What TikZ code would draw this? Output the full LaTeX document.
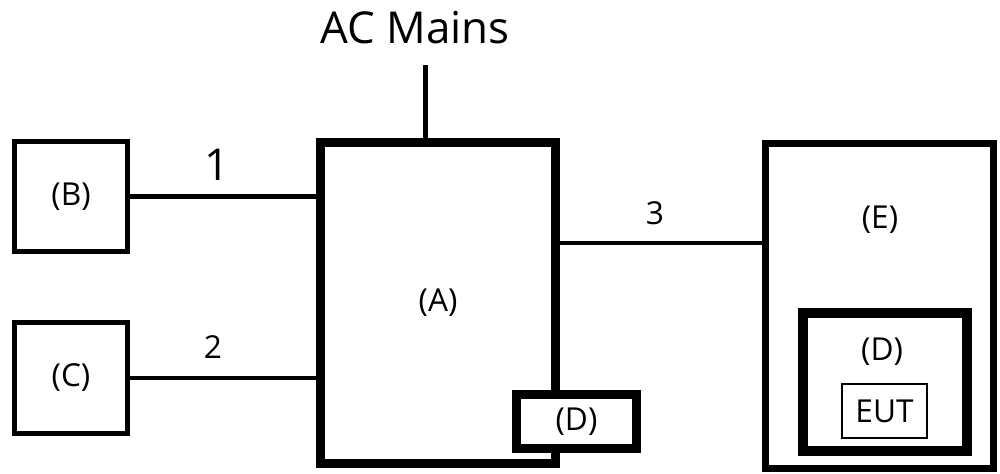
\documentclass[tikz,border=0pt]{standalone}
\usepackage{fontspec}
\setmainfont{Open Sans}
\usepackage{tikz}
\usetikzlibrary{positioning,calc}

\begin{document}
\begin{tikzpicture}[
  unitbox/.style={draw,line width=1.4pt,inner sep=0pt,fill=white,font=\fontsize{9}{10}\selectfont},
  heavybox/.style={unitbox,line width=2.6pt},
  eutbox/.style={draw,line width=0.45pt,inner sep=0pt,font=\fontsize{9}{10}\selectfont},
  wire/.style={line width=1.4pt},
  lbl/.style={font=\fontsize{9}{10}\selectfont},
  biglbl/.style={font=\fontsize{12.5}{14}\selectfont}
]
\useasboundingbox (0,0) rectangle (10,4.73);

% main unit and its local accessory
\node[heavybox,minimum width=2.35cm,minimum height=3.21cm] (A) at (4.38,1.70) {(A)};
\node[heavybox,minimum width=1.20cm,minimum height=0.54cm] (Dl) at (5.765,0.515) {(D)};

% peripherals on the left
\node[unitbox,minimum width=1.13cm,minimum height=1.10cm] (B) at (0.71,2.765) {(B)};
\node[unitbox,minimum width=1.13cm,minimum height=1.11cm] (C) at (0.71,0.95) {(C)};

% remote enclosure with EUT
\node[unitbox,line width=2pt,minimum width=2.28cm,minimum height=3.25cm] (E) at (8.795,1.67) {};
\node[lbl] (Elbl) at (8.80,2.53) {(E)};
\node[heavybox,line width=2.85pt,minimum width=1.64cm,minimum height=1.38cm] (Dr) at (8.85,0.91) {};
\node[lbl] (Drlbl) at (8.82,1.21) {(D)};
\node[eutbox,minimum width=0.85cm,minimum height=0.54cm] (eut) at (8.845,0.62) {EUT};

% mains feed
\node[biglbl] (mains) at (4.15,4.45) {AC Mains};
\coordinate (acin) at (4.255,4.08);
\draw[wire] (acin) -- (acin |- A.north);

% cables
\draw[wire] (B.east) -- (B.east -| A.west);
\draw[wire] (C.east) -- (C.east -| A.west);
\coordinate (c3) at (5.555,2.30);
\draw[wire] (c3) -- (c3 -| E.west);
\node[biglbl] (n1) at (2.17,3.08) {1};
\node[lbl] (n2) at (2.13,1.26) {2};
\node[lbl] (n3) at (6.55,2.60) {3};

\end{tikzpicture}
\end{document}
